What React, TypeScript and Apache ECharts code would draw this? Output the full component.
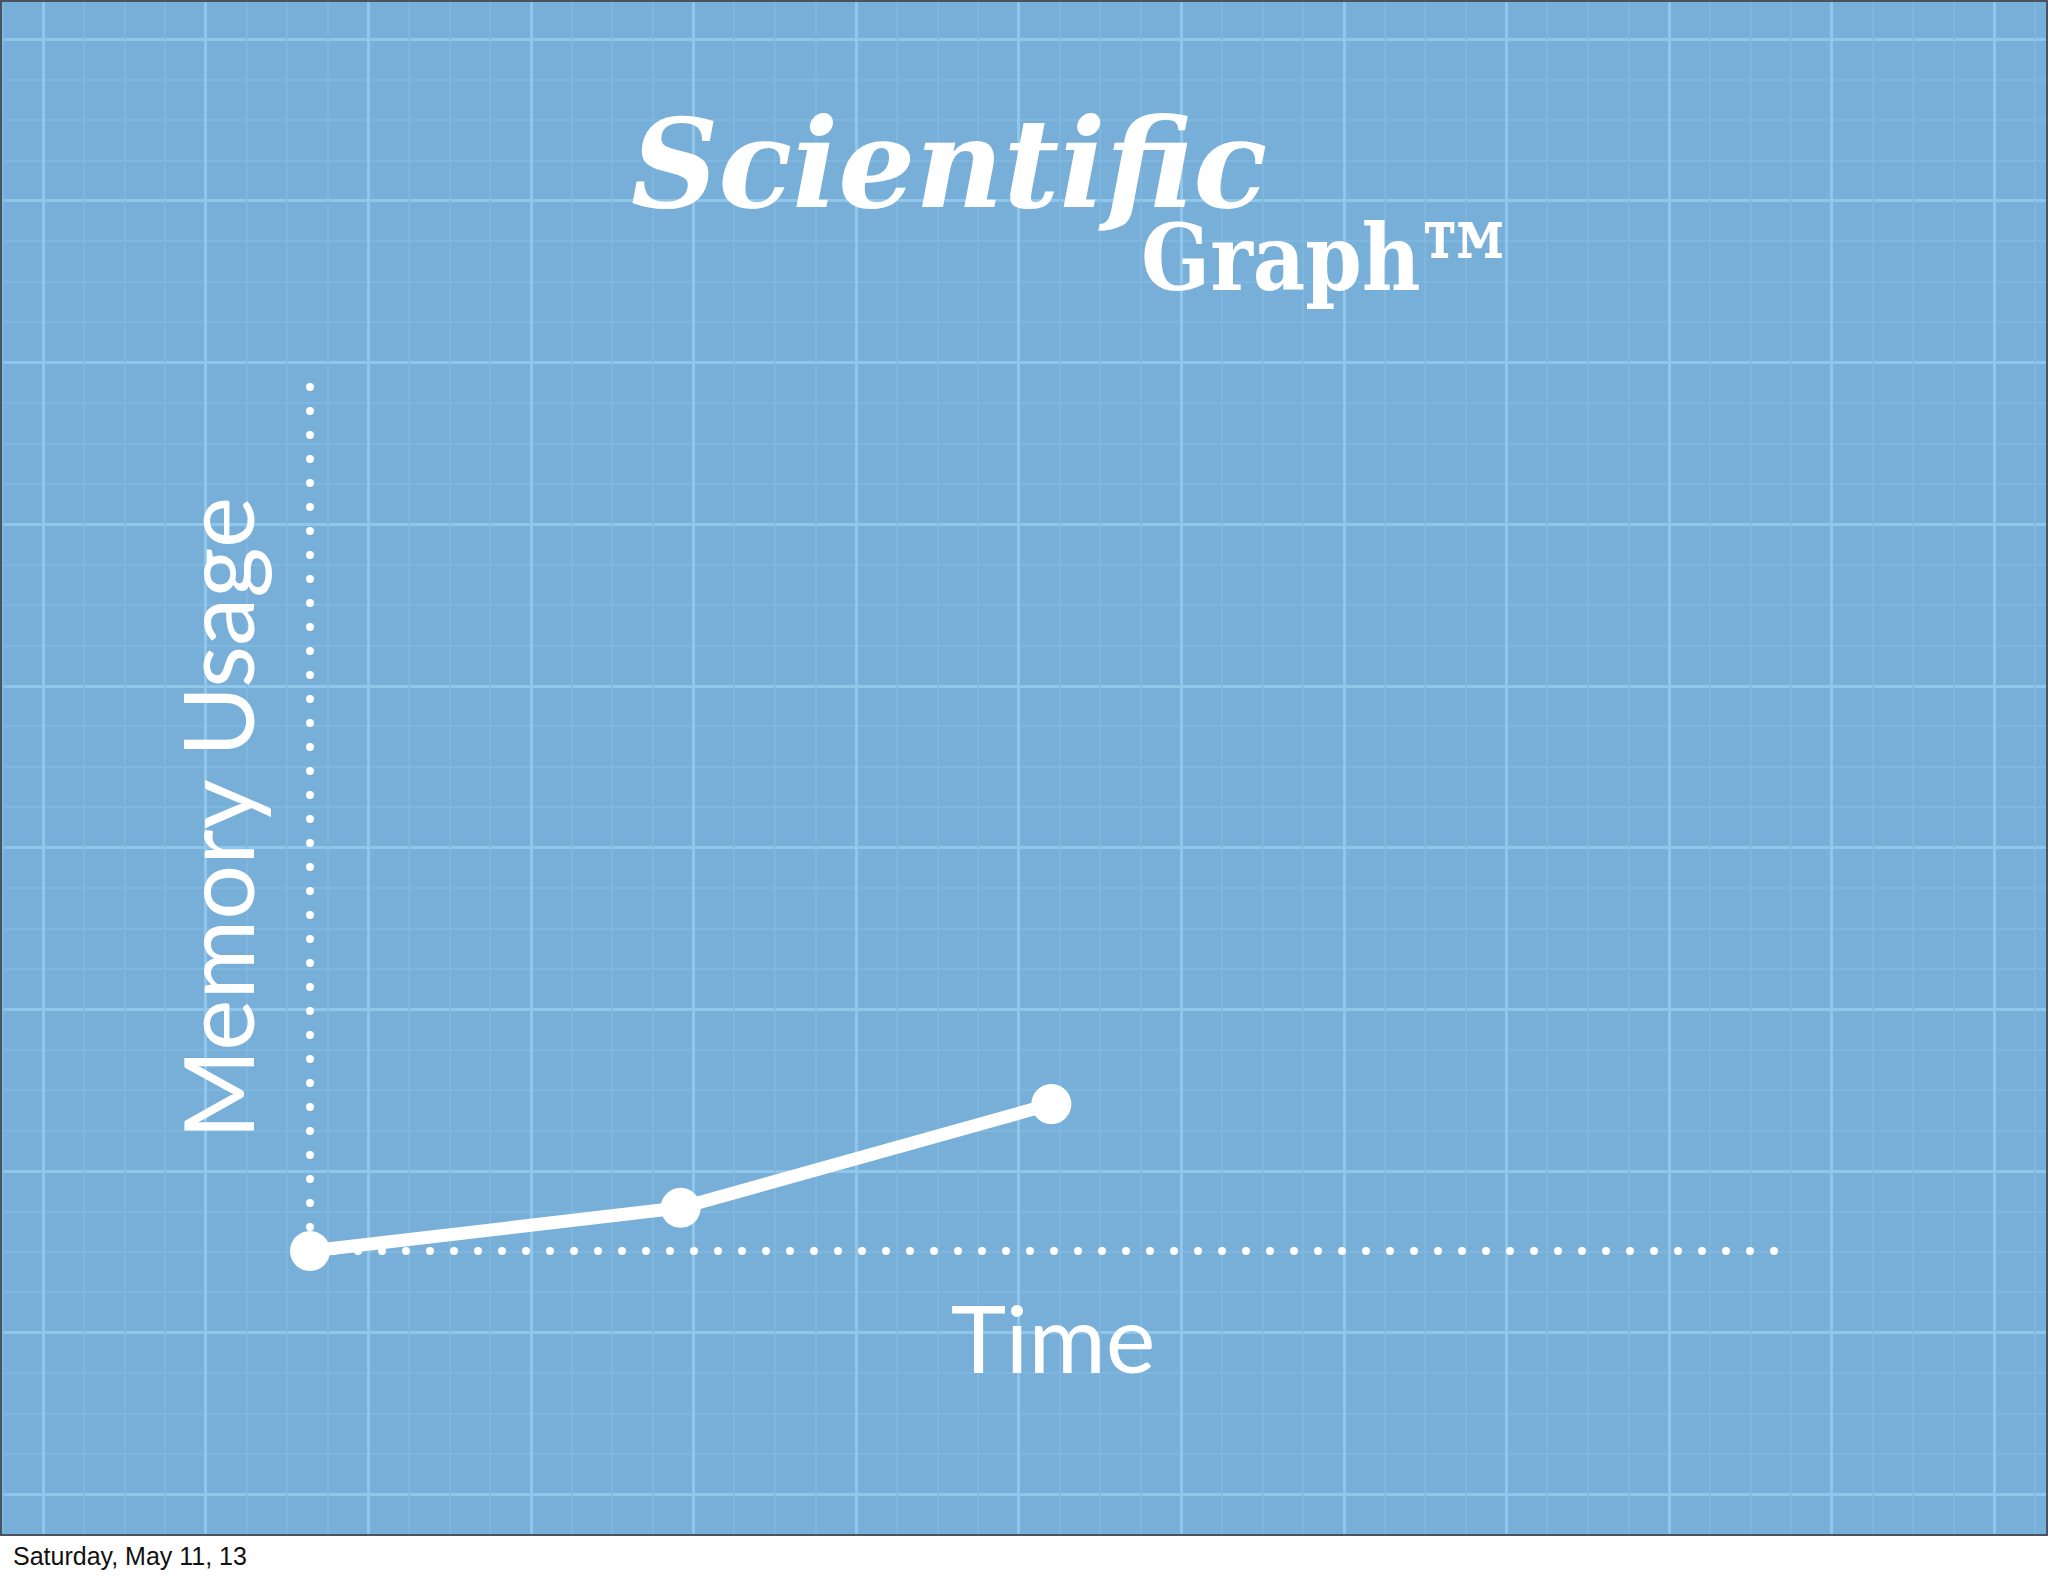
import React, { useEffect, useRef } from "react";
import * as echarts from "echarts";

// ---- data ----
const timePoints = [0, 1, 2];
const memoryValues = [0, 0.5, 1.7];
const xMax = 3.955;
const yMax = 10.02;
const titleMain = "Scientific";
const titleSub = "Graph";
const titleMark = "\u2122";
const xName = "Time";
const yName = "Memory Usage";
const footerText = "Saturday, May 11, 13";
// background blueprint grid (major cells, minor subdivisions)
const bgMajorCols = 14;
const bgMajorRows = 11;
const bgMinorSplit = 4;

const BG = "#77afd8";
const MAJOR = "#90c6ea";
const MINOR = "#80b8df";

export default function App() {
  const ref = useRef<HTMLDivElement>(null);
  useEffect(() => {
    document.body.style.margin = "0";
    const chart = echarts.init(ref.current!, null, { renderer: "svg" });
    const dotted = { color: "#ffffff", width: 8, type: [0, 24], cap: "round" };
    const hidden = {
      axisLine: { show: false },
      axisTick: { show: false },
      axisLabel: { show: false },
    };
    chart.setOption({
      animation: false,
      backgroundColor: BG,
      grid: [
        { left: 310, top: 385, width: 1466, height: 866, outerBoundsMode: "none", containLabel: false },
        {
          left: -119.6,
          top: -122.7,
          width: 162.6 * bgMajorCols,
          height: 161.7 * bgMajorRows,
          outerBoundsMode: "none",
          containLabel: false,
        },
      ],
      xAxis: [
        {
          gridIndex: 0,
          type: "value",
          min: 0,
          max: xMax,
          axisLine: { show: true, lineStyle: dotted },
          axisTick: { show: false },
          axisLabel: { show: false },
          splitLine: { show: false },
          name: xName,
          nameLocation: "middle",
          nameGap: 38,
          nameTextStyle: {
            color: "#ffffff",
            fontFamily: "Lato",
            fontWeight: 400,
            fontSize: 94,
            padding: [0, 0, 0, 20],
          },
        },
        {
          gridIndex: 1,
          type: "value",
          min: 0,
          max: bgMajorCols,
          interval: 1,
          z: -1,
          ...hidden,
          splitLine: { show: true, lineStyle: { color: MAJOR, width: 3 } },
          minorTick: { show: false, splitNumber: bgMinorSplit },
          minorSplitLine: { show: true, lineStyle: { color: MINOR, width: 1.5 } },
        },
      ],
      yAxis: [
        {
          gridIndex: 0,
          type: "value",
          min: 0,
          max: yMax,
          axisLine: { show: true, lineStyle: dotted },
          axisTick: { show: false },
          axisLabel: { show: false },
          splitLine: { show: false },
          name: yName,
          nameLocation: "middle",
          nameGap: 45,
          nameTextStyle: { color: "#ffffff", fontFamily: "Lato", fontWeight: 400, fontSize: 97 },
        },
        {
          gridIndex: 1,
          type: "value",
          min: 0,
          max: bgMajorRows,
          interval: 1,
          z: -1,
          ...hidden,
          splitLine: { show: true, lineStyle: { color: MAJOR, width: 3 } },
          minorTick: { show: false, splitNumber: bgMinorSplit },
          minorSplitLine: { show: true, lineStyle: { color: MINOR, width: 1.5 } },
        },
      ],
      series: [
        {
          type: "line",
          xAxisIndex: 0,
          yAxisIndex: 0,
          clip: false,
          data: timePoints.map((t, i) => [t, memoryValues[i]]),
          symbol: "circle",
          symbolSize: 40,
          itemStyle: { color: "#ffffff" },
          lineStyle: { color: "#ffffff", width: 13 },
          z: 5,
        },
      ],
      graphic: [
        {
          type: "text",
          x: 631,
          y: 164,
          z: 20,
          scaleX: 0.985,
          style: {
            text: titleMain,
            fill: "#ffffff",
            fontFamily: "DejaVu Serif",
            fontWeight: "bold",
            fontStyle: "italic",
            fontSize: 123,
            align: "left",
            verticalAlign: "middle",
          },
        },
        {
          type: "text",
          x: 1141,
          y: 258,
          z: 20,
          scaleX: 0.88,
          style: {
            text: titleSub,
            fill: "#ffffff",
            fontFamily: "DejaVu Serif",
            fontWeight: "bold",
            fontSize: 92,
            align: "left",
            verticalAlign: "middle",
          },
        },
        {
          type: "text",
          x: 1413,
          y: 270,
          z: 20,
          scaleX: 0.84,
          style: {
            text: titleMark,
            fill: "#ffffff",
            fontFamily: "DejaVu Serif",
            fontWeight: "bold",
            fontSize: 126,
            align: "left",
            verticalAlign: "middle",
          },
        },
        {
          type: "rect",
          z: 50,
          shape: { x: 0, y: 1536, width: 2048, height: 40 },
          style: { fill: "#ffffff" },
        },
        {
          type: "rect",
          z: 51,
          shape: { x: 1, y: 1, width: 2046, height: 1534 },
          style: { fill: "none", stroke: "#4a5461", lineWidth: 2 },
        },
        {
          type: "text",
          x: 13,
          y: 1556,
          z: 52,
          style: {
            text: footerText,
            fill: "#111111",
            fontFamily: "Liberation Sans",
            fontSize: 25,
            align: "left",
            verticalAlign: "middle",
          },
        },
      ],
    });
    return () => chart.dispose();
  }, []);
  return (
    <div
      ref={ref}
      style={{ position: "absolute", left: 0, top: 0, width: 2048, height: 1576 }}
    />
  );
}
